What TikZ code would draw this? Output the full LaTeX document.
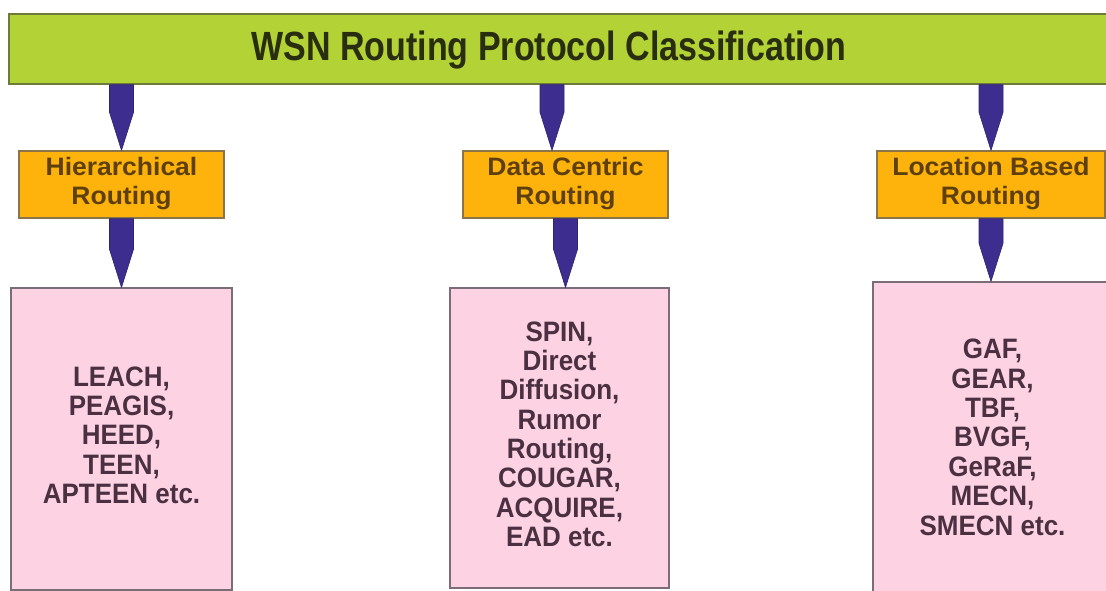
\documentclass[tikz,border=0pt]{standalone}
\usepackage{fontspec}
\setmainfont{Liberation Sans}
\usepackage{graphicx}
\usetikzlibrary{calc}
\definecolor{barG}{HTML}{B2D235}
\definecolor{barGline}{HTML}{6E7A3A}
\definecolor{orgF}{HTML}{FDB20C}
\definecolor{orgLine}{HTML}{8A7448}
\definecolor{pnkF}{HTML}{FDD3E4}
\definecolor{pnkLine}{HTML}{7A6D78}
\definecolor{arrF}{HTML}{3C2D8E}
\definecolor{titleTxt}{HTML}{2A2E10}
\definecolor{orgTxt}{HTML}{5E3F0E}
\definecolor{pnkTxt}{HTML}{4A3040}
\newcommand{\vtext}[2]{\scalebox{1}[#1]{\begin{tabular}{@{}c@{}}#2\end{tabular}}}
\newcommand{\fatarrow}[2]{\fill[arrfill] let \p1=(#1), \p2=(#2) in
  (\x1-12pt,\y1) -- (\x1+12pt,\y1) -- (\x1+12pt,\y2+38pt) -- (\x1,\y2) -- (\x1-12pt,\y2+38pt) -- cycle;}
\begin{document}
\begin{tikzpicture}[x=1pt,y=-1pt,
  greenbar/.style={draw=barGline,line width=1.5pt,fill=barG,inner sep=0pt},
  orgbox/.style={draw=orgLine,line width=1.3pt,fill=orgF,inner sep=0pt,minimum height=67pt,
    text=orgTxt,font=\bfseries\fontsize{26.5}{30.5}\selectfont},
  pnkbox/.style={draw=pnkLine,line width=1.2pt,fill=pnkF,inner sep=0pt,
    text=pnkTxt,font=\bfseries\fontsize{26}{27.2}\selectfont},
  arrfill/.style={fill=arrF,draw=arrF!80!black,line width=0.6pt,line join=round},
  titletext/.style={text=titleTxt,font=\bfseries\fontsize{34}{38}\selectfont,inner sep=0pt}]
\useasboundingbox (0,0) rectangle (1106,591);
\clip (0,0) rectangle (1106,591);
\fill[white] (0,0) rectangle (1106,591);
% top bar
\node[greenbar,minimum width=1106pt,minimum height=70pt] (title) at (562,49) {};
\node[titletext,anchor=base] (titlelabel) at (549,61) {\scalebox{1}[1.2]{WSN Routing Protocol Classification}};
% second level
\node[orgbox,minimum width=205pt] (hr) at (121.5,184.5) {\vtext{0.95}{Hierarchical\\Routing}};
\node[orgbox,minimum width=205pt] (dc) at (565.5,184.5) {\vtext{0.95}{Data Centric\\Routing}};
\node[orgbox,minimum width=228pt] (lb) at (991,184.5) {\vtext{0.95}{Location Based\\Routing}};
% leaves
\node[pnkbox,minimum width=221pt,minimum height=302pt] (hl) at (121.5,439)
  {\vtext{1.08}{LEACH,\\PEAGIS,\\HEED,\\TEEN,\\APTEEN etc.}};
\node[pnkbox,minimum width=219pt,minimum height=300pt] (dl) at (559.5,438)
  {\vtext{1.08}{SPIN,\\Direct\\Diffusion,\\Rumor\\Routing,\\COUGAR,\\ACQUIRE,\\EAD etc.}};
\node[pnkbox,minimum width=239pt,minimum height=318pt] (ll) at (992.5,441)
  {\vtext{1.08}{GAF,\\GEAR,\\TBF,\\BVGF,\\GeRaF,\\MECN,\\SMECN etc.}};
% connectors
\coordinate (dtop) at ([xshift=-13.5pt]dc.north);
\fatarrow{title.south -| hr.north}{hr.north}
\fatarrow{title.south -| dtop}{dtop}
\fatarrow{title.south -| lb.north}{lb.north}
\fatarrow{hr.south}{hl.north}
\fatarrow{dc.south}{dc.south |- dl.north}
\fatarrow{lb.south}{lb.south |- ll.north}
\end{tikzpicture}
\end{document}
